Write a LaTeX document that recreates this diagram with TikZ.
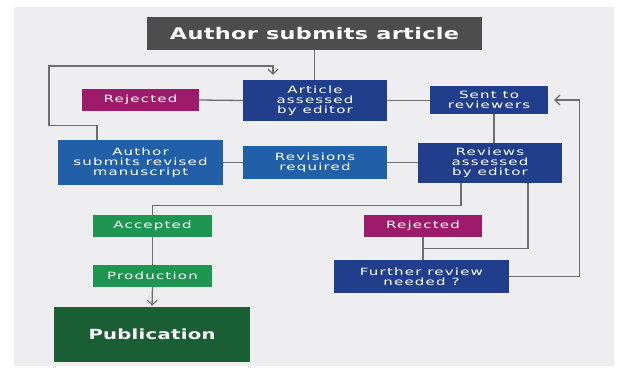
\documentclass[tikz,border=0pt]{standalone}
\usepackage{fontspec}
\usetikzlibrary{arrows.meta}
\newfontfamily\boxfont[FakeStretch=1.5,LetterSpace=12]{DejaVu Sans}
\newfontfamily\headfont[FakeStretch=1.4,LetterSpace=2]{DejaVu Sans}
\definecolor{dkgray}{HTML}{4D4D4D}
\definecolor{magen}{HTML}{9E1B6B}
\definecolor{navy}{HTML}{213E8C}
\definecolor{midblue}{HTML}{2160A9}
\definecolor{grn}{HTML}{1E9652}
\definecolor{dkgrn}{HTML}{195F33}
\definecolor{panelc}{HTML}{EEEEF0}
\definecolor{wirec}{HTML}{6E6E6E}
\begin{document}
\begin{tikzpicture}[x=1pt,y=-1pt,
  box/.style={rectangle, inner sep=0pt, align=center, text=white,
    font=\boxfont\fontsize{10}{9.8}\selectfont},
  wire/.style={draw=wirec, line width=1.3pt},
  arr/.style={wire, -{Straight Barb[length=5pt,width=10pt,line width=1.1pt]}}]
\useasboundingbox (0,0) rectangle (617,367);
\fill[white] (0,0) rectangle (617,367);
\fill[panelc] (14,7) rectangle (614,366);

\node[box, fill=dkgray, minimum width=335pt, minimum height=33pt,
  font=\headfont\bfseries\fontsize{16}{18}\selectfont] (title) at (314.5,33.5) {Author submits article};
\node[box, fill=magen, minimum width=117pt, minimum height=22pt] (rej1) at (140.5,100) {Rejected};
\node[box, fill=navy, minimum width=144pt, minimum height=41pt] (art) at (315,100.5) {Article\\assessed\\by editor};
\node[box, fill=navy, minimum width=118pt, minimum height=28pt] (sent) at (489,100) {Sent to\\reviewers};
\node[box, fill=midblue, minimum width=165pt, minimum height=45pt] (revised) at (140.5,162.5) {Author\\submits revised\\manuscript};
\node[box, fill=midblue, minimum width=144pt, minimum height=33pt] (revreq) at (315,162.5) {Revisions\\required};
\node[box, fill=navy, minimum width=144pt, minimum height=40pt] (reviews) at (490,163) {Reviews\\assessed\\by editor};
\node[box, fill=grn, minimum width=119pt, minimum height=22pt] (acc) at (152.5,226) {Accepted};
\node[box, fill=magen, minimum width=118pt, minimum height=22pt] (rej2) at (423,226) {Rejected};
\node[box, fill=grn, minimum width=119pt, minimum height=22pt] (prod) at (152.5,276) {Production};
\node[box, fill=navy, minimum width=175pt, minimum height=33pt] (further) at (421.5,276.5) {Further review\\needed ?};
\node[box, fill=dkgrn, minimum width=196pt, minimum height=55pt,
  font=\headfont\bfseries\fontsize{14}{16}\selectfont] (pub) at (152,334.5) {Publication};

\draw[wire] (title.south) -- (title.south |- art.north);
\draw[wire] (rej1.east) -- (art.west);
\draw[wire] (art.east) -- (art.east -| sent.west);
\draw[wire] ([xshift=5pt]sent.south) -- ([xshift=5pt]sent.south |- reviews.north);
\draw[arr, shorten >=5pt] ([xshift=-43.5pt]revised.north) -- ++(0,-14) -| (49,66) -| ([xshift=-42pt]art.north);
\draw[wire] (revised.east) -- (revreq.west);
\draw[wire] (revreq.east) -- (revreq.east -| reviews.west);
\draw[wire] ([xshift=-29pt]reviews.south) -- ++(0,22) -| (acc.north);
\draw[wire] (acc.south) -- (prod.north);
\draw[arr, shorten >=1pt] (prod.south) -- (pub.north);
\draw[wire] ([xshift=38pt]reviews.south) -- ++(0,65) -| (rej2.south);
\draw[wire] (rej2.south) -- (rej2.south |- further.north);
\draw[arr] (further.east) -- ++(70,0) |- ([xshift=6pt]sent.east);
\end{tikzpicture}
\end{document}
